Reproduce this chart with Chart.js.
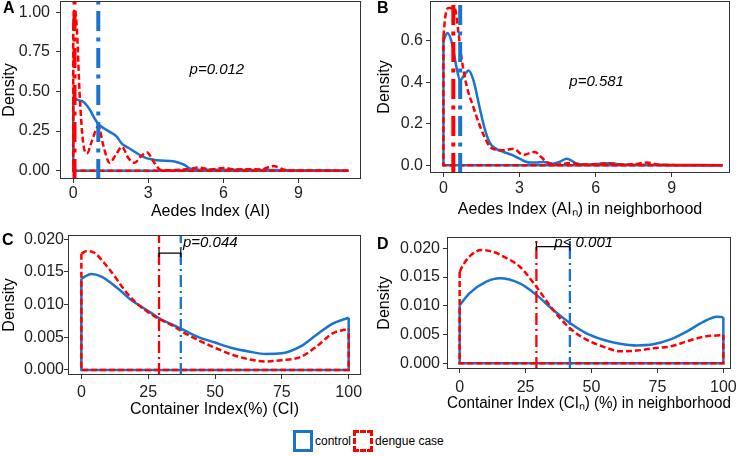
<!DOCTYPE html>
<html>
<head>
<meta charset="utf-8">
<script src="https://cdn.jsdelivr.net/npm/chart.js@4.4.1/dist/chart.umd.min.js"></script>
<style>
    body { margin: 0; background: #fff; }
    #figura { position: relative; width: 740px; height: 456px; font-family: "Liberation Sans", Arial, sans-serif; }
    canvas { position: absolute; }
    .letra { position: absolute; font-weight: bold; font-size: 16px; line-height: 16px; color: #000; }
    #legenda { position: absolute; left: 293px; top: 430px; height: 22px; display: flex; align-items: center; font-size: 12px; color: #000; }
    .chave { display: inline-block; width: 14px; height: 16px; margin-right: 2px; }
</style>
</head>
<body>
<div id="figura">
    <canvas id="graficoA" width="370" height="225" style="left:0;top:0"></canvas>
    <canvas id="graficoB" width="370" height="225" style="left:370px;top:0"></canvas>
    <canvas id="graficoC" width="370" height="200" style="left:0;top:225px"></canvas>
    <canvas id="graficoD" width="370" height="200" style="left:370px;top:225px"></canvas>
    <div class="letra" style="left:3px;top:0">A</div>
    <div class="letra" style="left:377px;top:0">B</div>
    <div class="letra" style="left:2px;top:232px">C</div>
    <div class="letra" style="left:377px;top:236px">D</div>
    <div id="legenda">
        <span class="chave" style="border:3px solid #1874CD"></span><span>control</span>
        <span class="chave" style="border:3px dashed #FF0000;margin-left:2px"></span><span>dengue case</span>
    </div>
</div>
<script>
/* DATA */

// A: Aedes Index (AI)
const aCtrlX = [0, 0.1, 0.25, 0.4, 0.55, 0.7, 0.85, 1.0, 1.2, 1.45, 1.73, 1.95, 2.2, 2.45, 2.7, 2.95, 3.2, 3.5, 4.0, 4.4, 4.7, 5.0, 5.5, 6, 6.5, 7, 7.5, 8, 9, 10, 11];
const aCtrlY = [0.447, 0.45, 0.443, 0.435, 0.41, 0.375, 0.33, 0.295, 0.27, 0.245, 0.216, 0.17, 0.145, 0.12, 0.095, 0.078, 0.07, 0.065, 0.06, 0.04, 0.012, 0.006, 0.006, 0.007, 0.006, 0.005, 0.005, 0.005, 0.002, 0.001, 0];
const aCaseX = [0, 0.05, 0.15, 0.25, 0.4, 0.55, 0.75, 1.0, 1.2, 1.45, 1.7, 1.95, 2.2, 2.45, 2.7, 2.95, 3.2, 3.5, 4.0, 4.4, 4.7, 5.0, 5.5, 6, 6.5, 7, 7.5, 8, 8.4, 9, 10, 11];
const aCaseY = [0.92, 1.02, 0.88, 0.5, 0.17, 0.11, 0.19, 0.28, 0.16, 0.05, 0.1, 0.15, 0.08, 0.05, 0.09, 0.115, 0.06, 0.005, 0.003, 0.008, 0.012, 0.02, 0.008, 0.018, 0.008, 0.01, 0.008, 0.03, 0.008, 0.002, 0.001, 0];
const aMedias = [1.0, 0.05]; // control, dengue case
const aXTicks = [0, 3, 6, 9];
const aYTicks = [0, 0.25, 0.5, 0.75, 1];

// B: Aedes Index (AIn) in neighborhood
const bCtrlX = [0, 0.16, 0.35, 0.5, 0.66, 0.8, 0.99, 1.18, 1.45, 1.64, 1.84, 2.1, 2.37, 2.7, 3.0, 3.4, 3.7, 3.94, 4.3, 4.6, 4.86, 5.26, 5.6, 6, 6.5, 7, 8, 9, 10, 11];
const bCtrlY = [0.6, 0.636, 0.58, 0.48, 0.41, 0.43, 0.456, 0.41, 0.265, 0.17, 0.105, 0.078, 0.064, 0.05, 0.032, 0.013, 0.014, 0.016, 0.008, 0.018, 0.032, 0.008, 0.004, 0.006, 0.01, 0.004, 0.003, 0.002, 0.001, 0];
const bCaseX = [0, 0.08, 0.2, 0.35, 0.46, 0.59, 0.72, 0.92, 1.18, 1.45, 1.84, 2.1, 2.37, 2.76, 3.15, 3.6, 3.85, 4.07, 4.47, 5.0, 5.5, 6, 6.5, 7, 7.5, 8, 8.5, 9, 10, 11];
const bCaseY = [0.62, 0.72, 0.756, 0.756, 0.75, 0.64, 0.51, 0.38, 0.28, 0.185, 0.088, 0.075, 0.072, 0.08, 0.05, 0.064, 0.04, 0.016, 0.003, 0.011, 0.004, 0.005, 0.01, 0.004, 0.005, 0.013, 0.003, 0.001, 0.0005, 0];
const bMedias = [0.66, 0.39];
const bXTicks = [0, 3, 6, 9];
const bYTicks = [0, 0.2, 0.4, 0.6];

// C: Container Index (CI)
const cCtrlX = [0, 3.7, 7.5, 11.1, 15, 18.6, 22.4, 26.2, 29.9, 33.7, 37.4, 44, 50, 56, 63, 69, 75, 82, 88, 94, 100];
const cCtrlY = [0.0140, 0.0147, 0.0143, 0.0133, 0.0120, 0.0107, 0.0097, 0.0087, 0.0077, 0.0070, 0.0063, 0.0050, 0.0042, 0.0034, 0.0028, 0.00245, 0.00255, 0.0036, 0.0054, 0.0071, 0.0080];
const cCaseX = [0, 2.1, 5, 8.7, 12.5, 16.2, 19.9, 23.7, 27.4, 31.2, 34.9, 38, 44, 50, 56, 63, 69, 75, 82, 88, 94, 100];
const cCaseY = [0.0178, 0.0182, 0.0179, 0.0163, 0.0143, 0.0122, 0.0105, 0.0092, 0.0082, 0.0074, 0.0066, 0.0058, 0.0045, 0.0034, 0.0024, 0.0016, 0.0013, 0.0015, 0.0020, 0.0036, 0.0056, 0.0063];
const cMedias = [37.2, 29.05];
const cXTicks = [0, 25, 50, 75, 100];
const cYTicks = [0, 0.005, 0.01, 0.015, 0.02];

// D: Container Index (CIn) in neighborhood
const dCtrlX = [0, 3.8, 10.1, 15.2, 22.8, 29.1, 35.4, 41.8, 48.1, 54.4, 60.8, 67.1, 73.4, 79.7, 86.1, 92.4, 97.5, 100];
const dCtrlY = [0.0101, 0.0122, 0.0142, 0.0148, 0.0139, 0.0119, 0.0093, 0.0070, 0.0052, 0.0041, 0.0034, 0.0031, 0.0033, 0.0041, 0.0055, 0.0072, 0.0081, 0.0080];
const dCaseX = [0, 1.3, 3.8, 8.2, 12.7, 16.5, 22.8, 29.1, 35.4, 41.8, 48.1, 54.4, 60.8, 67.1, 73.4, 79.7, 86.1, 92.4, 100];
const dCaseY = [0.0159, 0.0171, 0.0186, 0.0197, 0.0194, 0.0186, 0.0168, 0.0133, 0.0093, 0.0061, 0.0041, 0.0029, 0.0021, 0.0022, 0.0026, 0.0029, 0.0038, 0.0046, 0.0049];
const dMedias = [41.8, 29.1];
const dXTicks = [0, 25, 50, 75, 100];
const dYTicks = [0, 0.005, 0.01, 0.015, 0.02];

const AZUL = '#1874CD';
const VERMELHO = '#FF0000';

Chart.defaults.font.family = '"Liberation Sans", Arial, sans-serif';
Chart.defaults.font.size = 16;
Chart.defaults.color = '#222';

/* DEFAULT FUNCTIONS */

function pontos(xs, ys) {
    return xs.map((x, i) => ({x: x, y: ys[i]}));
}

// vertical edges and baseline of the density polygon
function contorno(xs, ys) {
    let n = xs.length - 1;
    return [{x: xs[0], y: ys[0]}, {x: xs[0], y: 0}, {x: xs[n], y: 0}, {x: xs[n], y: ys[n]}];
}

function linhaVertical(x, faixa) {
    return [{x: x, y: faixa[0]}, {x: x, y: faixa[1]}];
}

function colchete(x1, x2, y, d) {
    return [{x: x1, y: y + d}, {x: x1, y: y - d}, {x: x1, y: y}, {x: x2, y: y}, {x: x2, y: y + d}, {x: x2, y: y - d}];
}

const molduraPlugin = {
    id: 'moldura',
    afterDraw(chart) {
        let a = chart.chartArea, ctx = chart.ctx;
        ctx.save();
        ctx.strokeStyle = '#333';
        ctx.lineWidth = 1;
        ctx.strokeRect(a.left + 0.5, a.top + 0.5, a.right - a.left - 1, a.bottom - a.top - 1);
        ctx.restore();
    }
};

const pTextoPlugin = {
    id: 'pTexto',
    afterDraw(chart, args, opts) {
        if (!opts.text) return;
        let ctx = chart.ctx;
        ctx.save();
        ctx.font = 'italic 15px "Liberation Sans", Arial, sans-serif';
        ctx.fillStyle = '#000';
        ctx.textAlign = opts.align;
        ctx.textBaseline = 'middle';
        ctx.fillText(opts.text, chart.scales.x.getPixelForValue(opts.x), chart.scales.y.getPixelForValue(opts.y));
        ctx.restore();
    }
};

function criarGrafico(id, p) {
    let estiloLinha = {pointRadius: 0, fill: false, showLine: true};
    let datasets = [];
    if (p.colchete) {
        datasets.push(Object.assign({data: colchete(p.medias[1], p.medias[0], p.colchete[0], p.colchete[1]), borderColor: '#000', borderWidth: 1.2}, estiloLinha));
    }
    datasets.push(Object.assign({data: linhaVertical(p.medias[1], p.yFaixa), borderColor: VERMELHO, borderWidth: p.larguraMedia, borderDash: p.tracoMedia}, estiloLinha));
    datasets.push(Object.assign({data: linhaVertical(p.medias[0], p.yFaixa), borderColor: AZUL, borderWidth: p.larguraMedia, borderDash: p.tracoMedia}, estiloLinha));
    datasets.push(Object.assign({data: pontos(p.caseX, p.caseY), borderColor: VERMELHO, borderWidth: 2.5, borderDash: [6, 3], cubicInterpolationMode: 'monotone'}, estiloLinha));
    datasets.push(Object.assign({data: contorno(p.caseX, p.caseY), borderColor: VERMELHO, borderWidth: 2.5, borderDash: [6, 3]}, estiloLinha));
    datasets.push(Object.assign({data: pontos(p.ctrlX, p.ctrlY), borderColor: AZUL, borderWidth: 2.5, cubicInterpolationMode: 'monotone'}, estiloLinha));
    datasets.push(Object.assign({data: contorno(p.ctrlX, p.ctrlY), borderColor: AZUL, borderWidth: 2.5}, estiloLinha));

    let canvas = document.querySelector(id);
    let area = p.area;
    return new Chart(canvas, {
        type: 'scatter',
        data: {datasets: datasets},
        plugins: [molduraPlugin, pTextoPlugin],
        options: {
            responsive: false,
            animation: false,
            events: [],
            layout: {padding: {left: 0, top: area[1], right: canvas.width - area[2], bottom: 0}},
            plugins: {
                legend: {display: false},
                tooltip: {enabled: false},
                pTexto: p.pTexto
            },
            scales: {
                x: {
                    type: 'linear',
                    min: p.xFaixa[0],
                    max: p.xFaixa[1],
                    afterBuildTicks: s => { s.ticks = p.xTicks.map(v => ({value: v})); },
                    afterFit: s => { s.height = canvas.height - area[3]; s.paddingLeft = 0; s.paddingRight = 0; },
                    ticks: {padding: p.xPad, maxRotation: 0, color: '#222'},
                    grid: {drawOnChartArea: false, tickLength: 4, color: '#333'},
                    border: {display: false},
                    title: {display: true, text: p.xTitulo, color: '#000', padding: {top: 0, bottom: p.xTituloPad}}
                },
                y: {
                    type: 'linear',
                    min: p.yFaixa[0],
                    max: p.yFaixa[1],
                    afterBuildTicks: s => { s.ticks = p.yTicks.map(v => ({value: v})); },
                    afterFit: s => { s.width = area[0]; s.paddingTop = 0; s.paddingBottom = 0; },
                    ticks: {padding: p.yPad, color: '#222', callback: v => v.toFixed(p.casas)},
                    grid: {drawOnChartArea: false, tickLength: 4, color: '#333'},
                    border: {display: false},
                    title: {display: true, text: 'Density', color: '#000', padding: {top: p.yTituloPad, bottom: 0}}
                }
            }
        }
    });
}

/* PANELS */

const graficoA = criarGrafico('#graficoA', {
    ctrlX: aCtrlX, ctrlY: aCtrlY, caseX: aCaseX, caseY: aCaseY, medias: aMedias,
    xTicks: aXTicks, yTicks: aYTicks, xFaixa: [-0.53, 11.5], yFaixa: [-0.052, 1.07], casas: 2,
    area: [60, 1, 361, 179], xPad: 1, yPad: 6, xTituloPad: 3.7, yTituloPad: 0,
    larguraMedia: 4, tracoMedia: [20, 6.5, 4, 6.5],
    xTitulo: 'Aedes Index (AI)',
    pTexto: {text: 'p=0.012', x: 5.74, y: 0.635, align: 'center'}
});

const graficoB = criarGrafico('#graficoB', {
    ctrlX: bCtrlX, ctrlY: bCtrlY, caseX: bCaseX, caseY: bCaseY, medias: bMedias,
    xTicks: bXTicks, yTicks: bYTicks, xFaixa: [-0.53, 11.3], yFaixa: [-0.037, 0.79], casas: 1,
    area: [60, 1, 360, 173], xPad: 2, yPad: 3, xTituloPad: 6.1, yTituloPad: 4.5,
    larguraMedia: 4, tracoMedia: [20, 6.5, 4, 6.5],
    xTitulo: 'Aedes Index (AI\u2099) in neighborhood',
    pTexto: {text: 'p=0.581', x: 6.04, y: 0.4, align: 'center'}
});

const graficoC = criarGrafico('#graficoC', {
    ctrlX: cCtrlX, ctrlY: cCtrlY, caseX: cCaseX, caseY: cCaseY, medias: cMedias,
    xTicks: cXTicks, yTicks: cYTicks, xFaixa: [-5, 104.6], yFaixa: [-0.00077, 0.02066], casas: 3,
    area: [68, 10, 361, 150], xPad: 3.5, yPad: 0, xTituloPad: 6.1, yTituloPad: 0,
    larguraMedia: 2.3, tracoMedia: [12, 4, 2, 4],
    xTitulo: 'Container Index(%) (CI)',
    colchete: [0.0179, 0.0006],
    pTexto: {text: 'p=0.044', x: 38, y: 0.0194, align: 'left'}
});

const graficoD = criarGrafico('#graficoD', {
    ctrlX: dCtrlX, ctrlY: dCtrlY, caseX: dCaseX, caseY: dCaseY, medias: dMedias,
    xTicks: dXTicks, yTicks: dYTicks, xFaixa: [-4.8, 102.9], yFaixa: [-0.001, 0.02197], casas: 3,
    area: [77, 12, 361, 144], xPad: 4.5, yPad: 3, xTituloPad: 12.1, yTituloPad: 5.4,
    larguraMedia: 2.3, tracoMedia: [12, 4, 2, 4],
    xTitulo: 'Container Index (CI\u2099) (%) in neighborhood',
    colchete: [0.0203, 0.0007],
    pTexto: {text: 'p< 0.001', x: 35.9, y: 0.0209, align: 'left'}
});
</script>
</body>
</html>
